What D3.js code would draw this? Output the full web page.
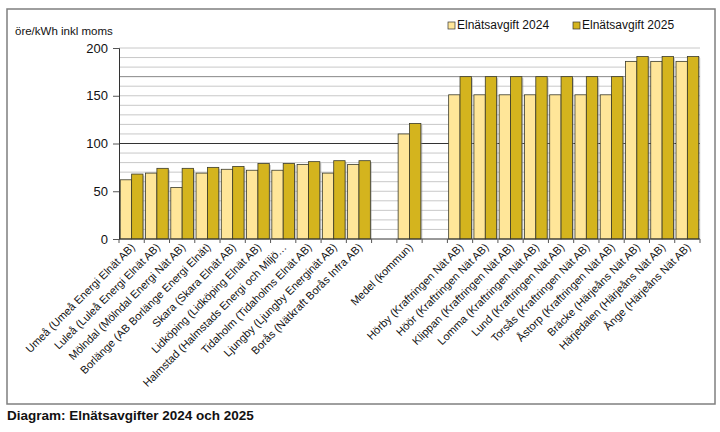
<!DOCTYPE html>
<html>
<head>
<meta charset="utf-8">
<script src="https://cdn.jsdelivr.net/npm/d3@7"></script>
<style>
  body { margin: 0; background: #fff; }
  text { font-family: "Liberation Sans", Arial, sans-serif; }
</style>
</head>
<body>
<script>
// data
var categories = [
  "Umeå (Umeå Energi Elnät AB)",
  "Luleå (Luleå Energi Elnät AB)",
  "Mölndal (Mölndal Energi Nät AB)",
  "Borlänge (AB Borlänge Energi Elnät)",
  "Skara (Skara Elnät AB)",
  "Lidköping (Lidköping Elnät AB)",
  "Halmstad (Halmstads Energi och Miljö…",
  "Tidaholm (Tidaholms Elnät AB)",
  "Ljungby (Ljungby Energinät AB)",
  "Borås (Nätkraft Borås Infra AB)",
  "",
  "Medel (kommun)",
  "",
  "Hörby (Kraftringen Nät AB)",
  "Höör (Kraftringen Nät AB)",
  "Klippan (Kraftringen Nät AB)",
  "Lomma (Kraftringen Nät AB)",
  "Lund (Kraftringen Nät AB)",
  "Torsås (Kraftringen Nät AB)",
  "Åstorp (Kraftringen Nät AB)",
  "Bräcke (Härjeåns Nät AB)",
  "Härjedalen (Härjeåns Nät AB)",
  "Ånge (Härjeåns Nät AB)"
]
var fee2024 = [62,69,54,69,73,72,72,78,69,78,null,110,null,151,151,151,151,151,151,151,186,186,186]
var fee2025 = [68,74,74,75,76,79,79,81,82,82,null,121,null,170,170,170,170,170,170,170,191,191,191]
var seriesNames = ["Elnätsavgift 2024","Elnätsavgift 2025"]
var yTicks = [0,50,100,150,200]

var screen = {width:720, height:432}
var plot = {left:119, right:700, top:48, bottom:239}
var colors = ["#FFE699","#D4B41E"]

var svg = d3.select("body").append("svg")
  .attr("width", screen.width)
  .attr("height", screen.height)

// outer frame
svg.append("rect")
  .attr("x", 7).attr("y", 9)
  .attr("width", 708).attr("height", 395)
  .attr("fill", "#fff")
  .attr("stroke", "#7f7f7f")
  .attr("stroke-width", 1.5)

// scales
var xScale = d3.scaleBand()
  .domain(d3.range(categories.length))
  .range([plot.left, plot.right])
  .paddingInner(0.1)
  .paddingOuter(0.05)
var xSub = d3.scaleBand()
  .domain([0,1])
  .range([0, xScale.bandwidth()])
var yScale = d3.scaleLinear()
  .domain([0,200])
  .range([plot.bottom, plot.top])

// grid
var grid = svg.append("g")
grid.selectAll("line")
  .data(d3.range(10,201,10))
  .enter().append("line")
  .attr("x1", plot.left).attr("x2", plot.right)
  .attr("y1", function(d){ return yScale(d) })
  .attr("y2", function(d){ return yScale(d) })
  .attr("stroke", function(d){ return d==100 ? "#333" : (d==170 ? "#888" : "#c8c8c8") })
  .attr("stroke-width", 1)

// bars
var rows = categories.map(function(c,i){ return {i:i, v:[fee2024[i], fee2025[i]]} })
var groups = svg.append("g").selectAll("g")
  .data(rows.filter(function(r){ return r.v[0] != null }))
  .enter().append("g")
  .attr("transform", function(d){ return "translate(" + xScale(d.i) + ",0)" })

var pairs = function(d){ return d.v.map(function(v,k){ return {k:k, v:v} }) }

groups.selectAll("rect.shadow")
  .data(pairs)
  .enter().append("rect")
  .attr("class", "shadow")
  .attr("x", function(d){ return xSub(d.k) + 1.5 })
  .attr("y", function(d){ return yScale(d.v) + 1.5 })
  .attr("width", xSub.bandwidth())
  .attr("height", function(d){ return plot.bottom - yScale(d.v) - 1.5 })
  .attr("fill", "#999")
  .attr("opacity", 0.5)

groups.selectAll("rect.bar")
  .data(pairs)
  .enter().append("rect")
  .attr("class", "bar")
  .attr("x", function(d){ return xSub(d.k) })
  .attr("y", function(d){ return yScale(d.v) })
  .attr("width", xSub.bandwidth())
  .attr("height", function(d){ return plot.bottom - yScale(d.v) })
  .attr("fill", function(d){ return colors[d.k] })
  .attr("stroke", "#3a3a2a")
  .attr("stroke-width", 0.8)

// axes
var yAxis = d3.axisLeft(yScale).tickValues(yTicks).tickSize(6).tickPadding(5)
var gy = svg.append("g")
  .attr("transform", "translate(" + plot.left + ",0)")
  .call(yAxis)
gy.select(".domain").attr("stroke", "#333")
gy.selectAll(".tick line").attr("stroke", "#555")
gy.selectAll("text").attr("font-size", 13).attr("fill", "#111")
  .attr("font-family", "Liberation Sans, Arial, sans-serif")

var gx = svg.append("g")
gx.append("line")
  .attr("x1", plot.left).attr("x2", plot.right)
  .attr("y1", plot.bottom).attr("y2", plot.bottom)
  .attr("stroke", "#333")
gx.selectAll("line.tk")
  .data(d3.range(categories.length + 1))
  .enter().append("line")
  .attr("class", "tk")
  .attr("x1", function(i){ return plot.left + (plot.right - plot.left) * i / categories.length })
  .attr("x2", function(i){ return plot.left + (plot.right - plot.left) * i / categories.length })
  .attr("y1", plot.bottom).attr("y2", plot.bottom + 4)
  .attr("stroke", "#555")

gx.selectAll("text")
  .data(rows)
  .enter().append("text")
  .attr("transform", function(d){
    var cx = xScale(d.i) + xScale.bandwidth() / 2 + 4
    return "translate(" + cx + "," + (plot.bottom + 9) + ") rotate(-45)"
  })
  .attr("text-anchor", "end")
  .attr("font-size", 11)
  .attr("fill", "#111")
  .text(function(d){ return categories[d.i] })

// y title
svg.append("text")
  .attr("x", 15).attr("y", 35)
  .attr("font-size", 11.5)
  .attr("fill", "#111")
  .text("öre/kWh inkl moms")

// legend
var legendX = [448, 573]
var legend = svg.append("g").selectAll("g")
  .data(seriesNames)
  .enter().append("g")
  .attr("transform", function(d,i){ return "translate(" + legendX[i] + ",29)" })
legend.append("rect")
  .attr("x", 0).attr("y", -7)
  .attr("width", 7).attr("height", 7)
  .attr("fill", function(d,i){ return colors[i] })
  .attr("stroke", "#333").attr("stroke-width", 0.7)
legend.append("text")
  .attr("x", 9).attr("y", 0)
  .attr("font-size", 12)
  .attr("fill", "#111")
  .text(function(d){ return d })

// caption
svg.append("text")
  .attr("x", 7).attr("y", 420)
  .attr("font-size", 13.5)
  .attr("font-weight", "bold")
  .attr("font-family", "Open Sans, sans-serif")
  .attr("fill", "#111")
  .text("Diagram: Elnätsavgifter 2024 och 2025")
</script>
</body>
</html>
